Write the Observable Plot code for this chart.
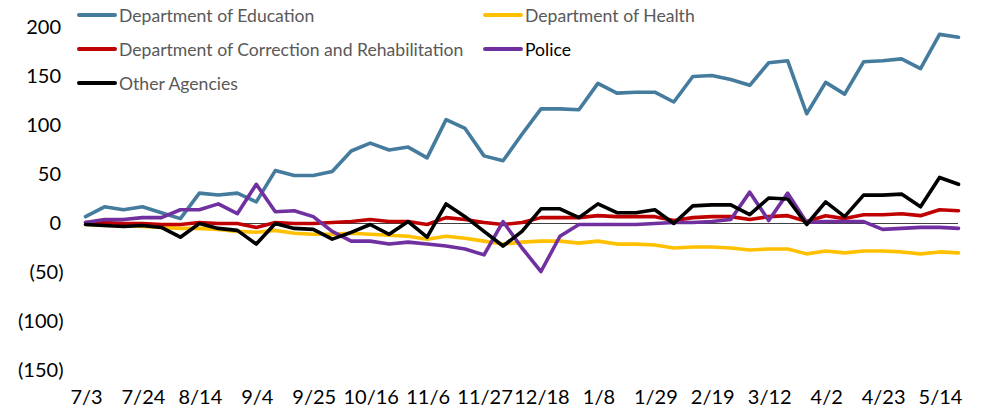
<!DOCTYPE html>
<html>
<head>
<meta charset="utf-8">
<script src="https://cdn.jsdelivr.net/npm/d3@7"></script>
<script src="https://cdn.jsdelivr.net/npm/@observablehq/plot@0.6"></script>
<style>
  html, body { margin: 0; padding: 0; background: #fff; }
  #wrap { position: relative; width: 984px; height: 411px; font-family: Lato, "Open Sans", sans-serif; }
  .leg { position: absolute; display: flex; align-items: center; font-size: 17.6px; color: #595959; white-space: nowrap; }
  .leg .sw { display: inline-block; width: 40px; height: 4px; border-radius: 2px; margin-right: 2px; }
</style>
</head>
<body>
<div id="wrap"></div>
<script>
const dates = ["7/3","7/10","7/17","7/24","7/31","8/7","8/14","8/21","8/28","9/4","9/11","9/18","9/25","10/2","10/9","10/16","10/23","10/30","11/6","11/13","11/20","11/27","12/4","12/11","12/18","12/25","1/1","1/8","1/15","1/22","1/29","2/5","2/12","2/19","2/26","3/5","3/12","3/19","3/26","4/2","4/9","4/16","4/23","4/30","5/7","5/14","5/21"];
const tickLabels = ["7/3","7/24","8/14","9/4","9/25","10/16","11/6","11/27","12/18","1/8","1/29","2/19","3/12","4/2","4/23","5/14"];
const yTicks = [200, 150, 100, 50, 0, -50, -100, -150];

const seriesNames = ["Department of Education","Department of Health","Department of Correction and Rehabilitation","Police","Other Agencies"];
const seriesColors = ["#457B9D","#FFC000","#C00000","#7030A0","#000000"];

const education = [7,17,14,17,11,5,31,29,31,22,54,49,49,53,74,82,75,78,67,106,97,69,64,91,117,117,116,143,133,134,134,124,150,151,147,141,164,166,112,144,132,165,166,168,158,193,190];
const health = [-1,-2,-2,-3,-4,-5,-5,-6,-8,-9,-7,-10,-11,-11,-10,-11,-12,-13,-16,-13,-15,-18,-21,-19,-18,-18,-20,-18,-21,-21,-22,-25,-24,-24,-25,-27,-26,-26,-31,-28,-30,-28,-28,-29,-31,-29,-30];
const correction = [1,1,0,0,-1,-1,1,0,0,-4,1,0,0,1,2,4,2,2,-1,6,4,1,-1,1,6,6,6,8,7,7,7,3,6,7,7,4,7,8,2,8,5,9,9,10,8,14,13];
const police = [1,4,4,6,6,14,14,20,10,40,12,13,7,-8,-18,-18,-21,-19,-21,-23,-26,-32,2,-25,-49,-13,-1,-1,-1,-1,0,1,1,2,4,32,3,31,1,2,2,2,-6,-5,-4,-4,-5];
const other = [-1,-2,-3,-2,-4,-14,0,-5,-7,-21,0,-5,-6,-16,-9,-1,-11,2,-14,20,7,-8,-23,-8,15,15,6,20,11,11,14,0,18,19,19,9,26,25,-1,22,7,29,29,30,17,47,40];

const seriesValues = [education, health, correction, police, other];
const rows = [];
seriesValues.forEach((vals, s) => vals.forEach((v, i) => rows.push({series: seriesNames[s], date: dates[i], value: v})));

const fmt = d => d < 0 ? `(${-d})` : `${d}\u2009`;

const chart = Plot.plot({
  width: 984,
  height: 411,
  marginLeft: 85,
  marginRight: 26,
  marginTop: 27,
  marginBottom: 41,
  style: {fontFamily: "Lato, 'Open Sans', sans-serif", fontSize: "20px", color: "#000", background: "#fff", overflow: "visible"},
  x: {type: "point", domain: dates, padding: 0},
  y: {domain: [-150, 200]},
  color: {domain: seriesNames, range: seriesColors},
  marks: [
    Plot.axisX(tickLabels, {tickSize: 0, tickPadding: 19, label: null, fontSize: 20, fill: "#000", dx: 1}),
    Plot.axisY(yTicks, {tickSize: 0, tickPadding: 22, tickFormat: fmt, label: null, fontSize: 20, fill: "#000"}),
    Plot.ruleY([0], {stroke: "#404040", strokeWidth: 1}),
    ...seriesNames.map((name, s) => Plot.line(rows.filter(r => r.series === name), {
      x: "date", y: "value", stroke: seriesColors[s], strokeWidth: 3.6, strokeLinejoin: "round", strokeLinecap: "round"
    }))
  ]
});
const wrap = document.getElementById("wrap");
wrap.appendChild(chart);

const legendPos = [
  {x: 77, y: 15}, {x: 483, y: 15},
  {x: 77, y: 49}, {x: 483, y: 49},
  {x: 77, y: 83}
];
seriesNames.forEach((name, s) => {
  const d = document.createElement("div");
  d.className = "leg";
  d.style.left = legendPos[s].x + "px";
  d.style.top = (legendPos[s].y - 12) + "px";
  d.style.height = "24px";
  if (name === "Police") d.style.color = "#000";
  const sw = document.createElement("span");
  sw.className = "sw";
  sw.style.background = seriesColors[s];
  const t = document.createElement("span");
  t.textContent = name;
  d.appendChild(sw);
  d.appendChild(t);
  wrap.appendChild(d);
});
</script>
</body>
</html>
